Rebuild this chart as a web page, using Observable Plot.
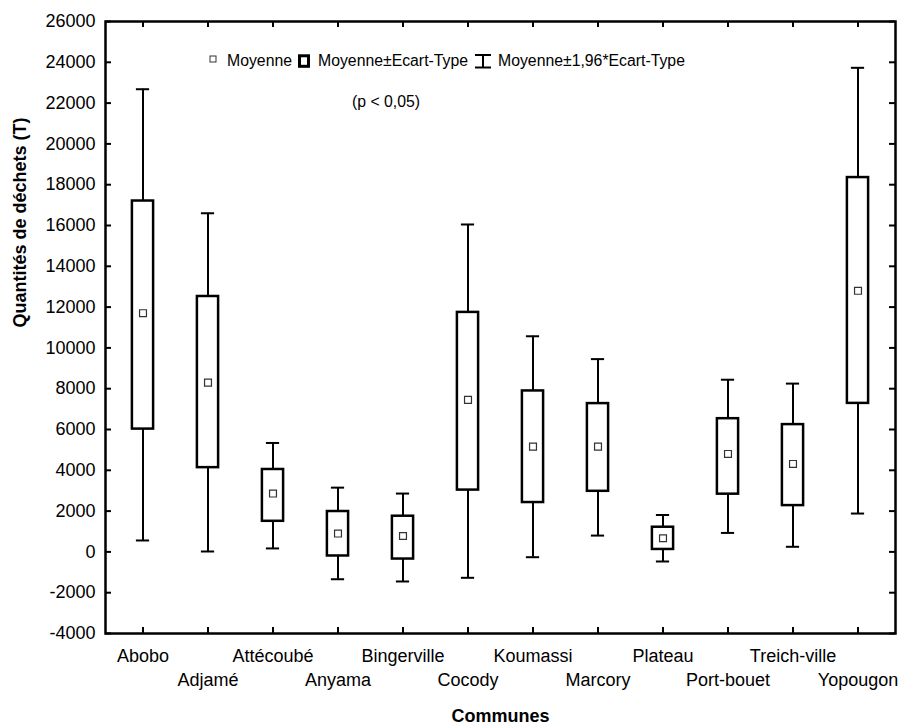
<!DOCTYPE html>
<html>
<head>
<meta charset="utf-8">
<script src="https://cdn.jsdelivr.net/npm/d3@7"></script>
<script src="https://cdn.jsdelivr.net/npm/@observablehq/plot@0.6"></script>
<style>
  html, body { margin: 0; padding: 0; background: #fff; }
  #chart { position: relative; width: 906px; height: 726px; }
</style>
</head>
<body>
<div id="chart"></div>
<script>
// ---- Data ----
const communes = ["Abobo", "Adjamé", "Attécoubé", "Anyama", "Bingerville", "Cocody",
                  "Koumassi", "Marcory", "Plateau", "Port-bouet", "Treich-ville", "Yopougon"];
const moyenne   = [11700, 8300, 2860,   900,   780, 7450, 5160, 5160,  670, 4800, 4310, 12800];
const ecartBas  = [ 6020, 4130, 1500,  -200,  -350, 3030, 2420, 2970,  120, 2830, 2270,  7280];
const ecartHaut = [17200,12520, 4040,  1980,  1750,11740, 7890, 7270, 1210, 6530, 6240, 18350];
const ic196Bas  = [  560,   20,  170, -1340, -1450,-1270, -260,  800, -470,  930,  250,  1880];
const ic196Haut = [22680,16600, 5340,  3150,  2860,16050,10570, 9450, 1810, 8440, 8250, 23730];
const yTicks = [-4000, -2000, 0, 2000, 4000, 6000, 8000, 10000, 12000, 14000, 16000,
                18000, 20000, 22000, 24000, 26000];
const legendItems = ["Moyenne", "Moyenne±Ecart-Type", "Moyenne±1,96*Ecart-Type"];
const note = "(p < 0,05)";
const xTitle = "Communes";
const yTitle = "Quantités de déchets (T)";

const data = communes.map((c, i) => ({
  commune: c, mean: moyenne[i], lo1: ecartBas[i], hi1: ecartHaut[i],
  lo2: ic196Bas[i], hi2: ic196Haut[i]
}));

const W = 906, H = 726, mL = 105, mR = 11, mT = 21, mB = 93;
const plotW = W - mL - mR, plotH = H - mT - mB;
const font = "'Liberation Sans', Arial, Helvetica, sans-serif";

const evens = communes.filter((d, i) => i % 2 === 0);
const odds = communes.filter((d, i) => i % 2 === 1);

const chart = Plot.plot({
  width: W, height: H,
  marginLeft: mL, marginRight: mR, marginTop: mT, marginBottom: mB,
  style: { fontFamily: font, background: "white", color: "black", overflow: "visible" },
  x: { type: "band", domain: communes, padding: 0 },
  y: { domain: [-4000, 26000] },
  marks: [
    // whisker stems
    Plot.ruleX(data, { x: "commune", y1: "lo2", y2: "hi2", stroke: "black", strokeWidth: 2 }),
    // whisker caps
    Plot.tickY(data, { x: "commune", y: "hi2", stroke: "black", strokeWidth: 2, insetLeft: 25.9, insetRight: 25.9 }),
    Plot.tickY(data, { x: "commune", y: "lo2", stroke: "black", strokeWidth: 2, insetLeft: 25.9, insetRight: 25.9 }),
    // SD boxes
    Plot.barY(data, { x: "commune", y1: "lo1", y2: "hi1", fill: "white", stroke: "black",
                      strokeWidth: 2.5, insetLeft: 21.9, insetRight: 21.9 }),
    // means
    Plot.dot(data, { x: "commune", y: "mean", symbol: "square", r: 3.9, fill: "white",
                     stroke: "#333", strokeWidth: 1.2 }),
    // inner ticks on all four sides
    Plot.ruleY(yTicks, { y: d => d, insetRight: plotW - 6, stroke: "black", strokeWidth: 2 }),
    Plot.ruleY(yTicks, { y: d => d, insetLeft: plotW - 6, stroke: "black", strokeWidth: 2 }),
    Plot.ruleX(communes, { x: d => d, insetTop: plotH - 6, stroke: "black", strokeWidth: 2 }),
    Plot.ruleX(communes, { x: d => d, insetBottom: plotH - 6, stroke: "black", strokeWidth: 2 }),
    // axes labels
    Plot.axisY({ ticks: yTicks, tickSize: 0, tickPadding: 10, tickFormat: d => String(d),
                 label: null, fontSize: 18 }),
    Plot.axisX({ ticks: evens, tickSize: 0, tickPadding: 16, label: null, fontSize: 18 }),
    Plot.axisX({ ticks: odds, tickSize: 0, tickPadding: 40, label: null, fontSize: 18 }),
    // titles
    Plot.text([xTitle], { text: d => d, frameAnchor: "bottom", dy: 83, fontWeight: "bold",
                          fontSize: 18, lineAnchor: "middle", fill: "black" }),
    Plot.text([yTitle], { text: d => d, frameAnchor: "left", dx: -85, rotate: -90,
                          fontWeight: "bold", fontSize: 18, lineAnchor: "middle", fill: "black" }),
    Plot.frame({ stroke: "black", strokeWidth: 2.5 })
  ]
});

document.getElementById("chart").appendChild(chart);

// ---- Legend (inside the plot area, top) ----
const svg = d3.select(chart);
const lg = svg.append("g").attr("font-family", font).attr("font-size", 15.8)
  .attr("fill", "black").attr("text-anchor", "start");
// mean symbol
lg.append("rect").attr("x", 210).attr("y", 56).attr("width", 6).attr("height", 6)
  .attr("fill", "white").attr("stroke", "#333").attr("stroke-width", 1);
lg.append("text").attr("x", 227).attr("y", 66).attr("text-anchor", "start").text(legendItems[0]);
// box symbol
lg.append("rect").attr("x", 299.5).attr("y", 55.8).attr("width", 9).attr("height", 10.5)
  .attr("fill", "white").attr("stroke", "black").attr("stroke-width", 3);
lg.append("text").attr("x", 318).attr("y", 66).attr("text-anchor", "start").text(legendItems[1]);
// whisker symbol
const ib = lg.append("g").attr("stroke", "black").attr("stroke-width", 2);
ib.append("line").attr("x1", 483).attr("x2", 483).attr("y1", 55).attr("y2", 67.5);
ib.append("line").attr("x1", 475).attr("x2", 491).attr("y1", 55).attr("y2", 55);
ib.append("line").attr("x1", 475).attr("x2", 491).attr("y1", 67.5).attr("y2", 67.5);
lg.append("text").attr("x", 498).attr("y", 66).attr("text-anchor", "start").text(legendItems[2]);
lg.append("text").attr("x", 352).attr("y", 107).attr("text-anchor", "start").text(note);
</script>
</body>
</html>
